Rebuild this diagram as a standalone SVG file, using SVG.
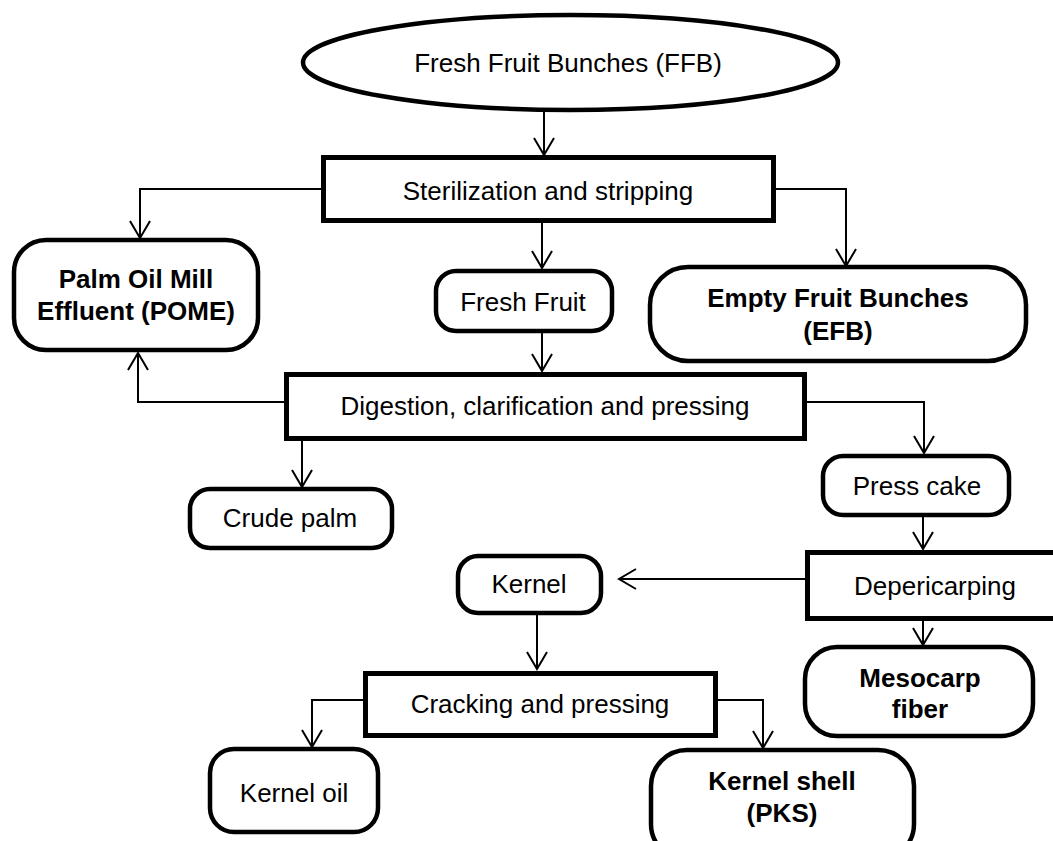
<svg xmlns="http://www.w3.org/2000/svg" width="1053" height="841" viewBox="0 0 1053 841">
<style>
.box{fill:#fff;stroke:#000;stroke-width:5}
.rbox{fill:#fff;stroke:#000;stroke-width:4.5}
.t{font-family:"Liberation Sans",Arial,sans-serif;font-size:26px;fill:#000;text-anchor:middle}
.b{font-weight:bold}
.c{fill:none;stroke:#000;stroke-width:2}
</style>
<defs>
<marker id="arr" markerUnits="userSpaceOnUse" markerWidth="22" markerHeight="24" refX="18" refY="11" orient="auto" viewBox="0 0 22 24">
<path d="M1,1 L18,11 L1,21" fill="none" stroke="#000" stroke-width="2"/>
</marker>
</defs>
<rect width="1053" height="841" fill="#fff"/>
<g id="connectors">
<path class="c" d="M544,112 V155" marker-end="url(#arr)"/>
<path class="c" d="M321,189 H140 V238" marker-end="url(#arr)"/>
<path class="c" d="M771,189 H846 V266" marker-end="url(#arr)"/>
<path class="c" d="M542,223 V268" marker-end="url(#arr)"/>
<path class="c" d="M542,333 V371" marker-end="url(#arr)"/>
<path class="c" d="M284,402 H138 V353" marker-end="url(#arr)"/>
<path class="c" d="M302,441 V487" marker-end="url(#arr)"/>
<path class="c" d="M807,402 H924 V453" marker-end="url(#arr)"/>
<path class="c" d="M923,517 V549" marker-end="url(#arr)"/>
<path class="c" d="M805,579 H619" marker-end="url(#arr)"/>
<path class="c" d="M923,619 V645" marker-end="url(#arr)"/>
<path class="c" d="M537,615 V669" marker-end="url(#arr)"/>
<path class="c" d="M363,700 H312 V747" marker-end="url(#arr)"/>
<path class="c" d="M718,700 H763 V748" marker-end="url(#arr)"/>
</g>
<g id="ffb">
<ellipse class="rbox" cx="570.5" cy="62.5" rx="267.5" ry="47.5"/>
<text class="t" x="568" y="72">Fresh Fruit Bunches (FFB)</text>
</g>
<g id="sterilization">
<rect class="box" x="323.5" y="157.5" width="450" height="63"/>
<text class="t" x="548" y="200">Sterilization and stripping</text>
</g>
<g id="pome">
<rect class="rbox" x="14" y="240" width="244" height="110" rx="32"/>
<text class="t b" x="136" y="288">Palm Oil Mill</text>
<text class="t b" x="136" y="320">Effluent (POME)</text>
</g>
<g id="freshfruit">
<rect class="rbox" x="436" y="271" width="176" height="60" rx="20"/>
<text class="t" x="523" y="311">Fresh Fruit</text>
</g>
<g id="efb">
<rect class="rbox" x="650" y="267" width="376" height="94" rx="38"/>
<text class="t b" x="838" y="307">Empty Fruit Bunches</text>
<text class="t b" x="838" y="340">(EFB)</text>
</g>
<g id="digestion">
<rect class="box" x="286.5" y="374.5" width="518" height="64"/>
<text class="t" x="545" y="415">Digestion, clarification and pressing</text>
</g>
<g id="crudepalm">
<rect class="rbox" x="190" y="489" width="202" height="59" rx="20"/>
<text class="t" x="290" y="527">Crude palm</text>
</g>
<g id="presscake">
<rect class="rbox" x="823" y="456" width="186" height="59" rx="20"/>
<text class="t" x="917" y="495">Press cake</text>
</g>
<g id="depericarping">
<rect class="box" x="807.5" y="552.5" width="260" height="66"/>
<text class="t" x="935" y="595">Depericarping</text>
</g>
<g id="kernel">
<rect class="rbox" x="458" y="556" width="143" height="57" rx="20"/>
<text class="t" x="529" y="593">Kernel</text>
</g>
<g id="mesocarp">
<rect class="rbox" x="805" y="647" width="228" height="89" rx="32"/>
<text class="t b" x="920" y="687">Mesocarp</text>
<text class="t b" x="920" y="718">fiber</text>
</g>
<g id="cracking">
<rect class="box" x="365.5" y="673.5" width="350" height="62"/>
<text class="t" x="540" y="713">Cracking and pressing</text>
</g>
<g id="kerneloil">
<rect class="rbox" x="210" y="749" width="168" height="83" rx="24"/>
<text class="t" x="294" y="802">Kernel oil</text>
</g>
<g id="kernelshell">
<rect class="rbox" x="651" y="750" width="263" height="110" rx="36"/>
<text class="t b" x="782" y="790">Kernel shell</text>
<text class="t b" x="782" y="822">(PKS)</text>
</g>
</svg>
